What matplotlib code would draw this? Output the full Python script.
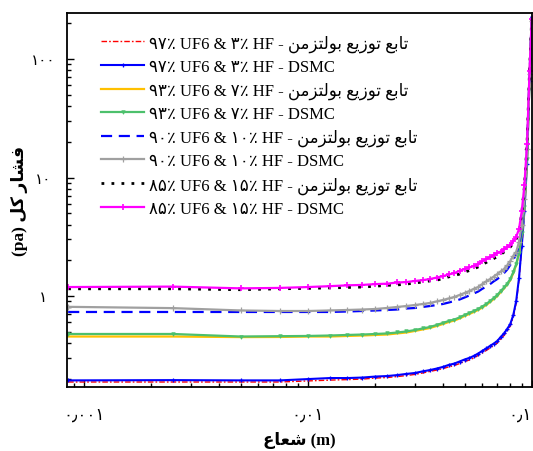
import matplotlib
matplotlib.use("Agg")
import matplotlib.pyplot as plt
from matplotlib import font_manager
from matplotlib.ticker import FixedLocator, FixedFormatter, LogLocator, NullFormatter

_names = {f.name for f in font_manager.fontManager.ttflist}
_fams = ['Liberation Serif']
if 'DejaVu Sans Condensed' in _names:
    _fams.append('DejaVu Sans Condensed')
_fams.append('DejaVu Sans')
plt.rcParams['font.family'] = _fams

# ---------------- data ----------------
radius = [0.00085, 0.0025, 0.005, 0.0075, 0.01, 0.0125, 0.015, 0.0175, 0.02, 0.0225,
          0.025, 0.0275, 0.03, 0.0325, 0.035, 0.0375, 0.04, 0.0425, 0.045, 0.0475,
          0.05, 0.0525, 0.055, 0.0575, 0.06, 0.0625, 0.065, 0.0675, 0.07, 0.0725,
          0.075, 0.0775, 0.08, 0.0825, 0.085, 0.0875, 0.09, 0.0925, 0.095, 0.0975, 0.0997]

p97_boltz = [0.188, 0.188, 0.188, 0.188, 0.192, 0.195, 0.197, 0.199, 0.203, 0.205,
             0.209, 0.213, 0.218, 0.224, 0.231, 0.237, 0.244, 0.252, 0.259, 0.269,
             0.280, 0.288, 0.300, 0.315, 0.330, 0.347, 0.364, 0.382, 0.401, 0.434,
             0.464, 0.507, 0.558, 0.665, 0.873, 1.36, 2.59, 5.12, 13.0, 65.2, 218]
p97_dsmc = [0.194, 0.195, 0.194, 0.194, 0.199, 0.203, 0.203, 0.205, 0.209, 0.211,
            0.215, 0.220, 0.224, 0.231, 0.237, 0.244, 0.252, 0.262, 0.269, 0.280,
            0.291, 0.300, 0.312, 0.327, 0.344, 0.361, 0.379, 0.397, 0.417, 0.451,
            0.483, 0.527, 0.580, 0.691, 0.907, 1.42, 2.64, 5.22, 13.0, 65.2, 226]
p93_boltz = [0.455, 0.455, 0.450, 0.451, 0.455, 0.455, 0.460, 0.464, 0.469, 0.473,
             0.483, 0.492, 0.507, 0.522, 0.537, 0.558, 0.580, 0.603, 0.621, 0.646,
             0.678, 0.705, 0.733, 0.762, 0.800, 0.839, 0.890, 0.943, 1.00, 1.08,
             1.16, 1.25, 1.36, 1.56, 1.83, 2.26, 3.34, 5.53, 14.3, 67.8, 209]
p93_dsmc = [0.478, 0.478, 0.455, 0.458, 0.460, 0.464, 0.469, 0.473, 0.478, 0.483,
            0.492, 0.502, 0.516, 0.532, 0.547, 0.569, 0.592, 0.615, 0.633, 0.659,
            0.691, 0.719, 0.747, 0.777, 0.815, 0.856, 0.907, 0.962, 1.02, 1.10,
            1.18, 1.27, 1.39, 1.59, 1.86, 2.31, 3.40, 5.64, 14.3, 67.8, 209]
p90_boltz = [0.733, 0.733, 0.733, 0.733, 0.733, 0.733, 0.740, 0.747, 0.755, 0.762,
             0.769, 0.784, 0.792, 0.808, 0.823, 0.839, 0.856, 0.881, 0.907, 0.934,
             0.971, 1.01, 1.05, 1.09, 1.15, 1.20, 1.26, 1.33, 1.39, 1.47,
             1.56, 1.67, 1.83, 2.01, 2.26, 2.69, 3.68, 6.21, 17.4, 74.7, 209]
p90_dsmc = [0.81, 0.79, 0.755, 0.747, 0.747, 0.755, 0.762, 0.769, 0.777, 0.792,
            0.808, 0.823, 0.839, 0.856, 0.873, 0.899, 0.925, 0.953, 0.981, 1.02,
            1.06, 1.10, 1.15, 1.19, 1.26, 1.33, 1.39, 1.46, 1.53, 1.61,
            1.69, 1.81, 1.97, 2.18, 2.35, 2.86, 3.97, 6.59, 17.4, 75, 209]
p85_boltz = [1.15, 1.15, 1.13, 1.15, 1.16, 1.17, 1.18, 1.19, 1.21, 1.23,
             1.24, 1.26, 1.29, 1.31, 1.34, 1.36, 1.40, 1.45, 1.49, 1.53,
             1.59, 1.64, 1.69, 1.76, 1.84, 1.92, 2.00, 2.07, 2.15, 2.24,
             2.35, 2.44, 2.59, 2.80, 3.03, 3.54, 5.0, 8.4, 19.2, 79, 218]
p85_dsmc = [1.19, 1.20, 1.16, 1.17, 1.19, 1.21, 1.23, 1.24, 1.26, 1.27,
            1.30, 1.31, 1.34, 1.36, 1.39, 1.43, 1.47, 1.52, 1.56, 1.63,
            1.69, 1.74, 1.79, 1.86, 1.97, 2.05, 2.13, 2.22, 2.31, 2.37,
            2.47, 2.57, 2.69, 2.91, 3.15, 3.68, 5.2, 8.6, 19.2, 79, 218]

mix_labels = ['۹۷٪ UF6 & ۳٪ HF', '۹۳٪ UF6 & ۷٪ HF', '۹۰٪ UF6 & ۱۰٪ HF', '۸۵٪ UF6 & ۱۵٪ HF']
boltz_name = 'تابع توزیع بولتزمن'
dsmc_name = 'DSMC'
x_label_fa = 'شعاع'
x_unit = '(m)'
y_label_fa = 'فشار کل'
y_unit = '(pa)'
xtick_vals = [0.001, 0.01, 0.1]
xtick_labels = ['۰٫۰۰۱', '۰٫۰۱', '۰٫۱']
ytick_vals = [1, 10, 100]
ytick_labels = ['۱', '۱۰', '۱۰۰']

# ------------- minimal Persian shaping (visual order) -------------
FORMS = {
    'ا': ('\uFE8D', '\uFE8E', None, None),
    'ب': ('\uFE8F', '\uFE90', '\uFE91', '\uFE92'),
    'ت': ('\uFE95', '\uFE96', '\uFE97', '\uFE98'),
    'ع': ('\uFEC9', '\uFECA', '\uFECB', '\uFECC'),
    'و': ('\uFEED', '\uFEEE', None, None),
    'ز': ('\uFEAF', '\uFEB0', None, None),
    'ی': ('\uFBFC', '\uFBFD', '\uFBFE', '\uFBFF'),
    'ل': ('\uFEDD', '\uFEDE', '\uFEDF', '\uFEE0'),
    'م': ('\uFEE1', '\uFEE2', '\uFEE3', '\uFEE4'),
    'ن': ('\uFEE5', '\uFEE6', '\uFEE7', '\uFEE8'),
    'ش': ('\uFEB5', '\uFEB6', '\uFEB7', '\uFEB8'),
    'ف': ('\uFED1', '\uFED2', '\uFED3', '\uFED4'),
    'ر': ('\uFEAD', '\uFEAE', None, None),
    'ک': ('\uFB8E', '\uFB8F', '\uFB90', '\uFB91'),
}


def rtl(s):
    out = []
    n = len(s)
    for i, ch in enumerate(s):
        f = FORMS.get(ch)
        if f is None:
            out.append(ch)
            continue
        jp = i > 0 and s[i - 1] in FORMS and FORMS[s[i - 1]][2] is not None
        jn = i < n - 1 and s[i + 1] in FORMS and f[2] is not None
        if jp and jn:
            out.append(f[3])
        elif jp:
            out.append(f[1])
        elif jn:
            out.append(f[2])
        else:
            out.append(f[0])
    return ''.join(reversed(out))


# ---------------- figure ----------------
fig = plt.figure(figsize=(5.33, 4.52), dpi=100)
ax = fig.add_axes([67 / 533, 64 / 452, 465 / 533, 374 / 452])

boltz_series = [p97_boltz, p93_boltz, p90_boltz, p85_boltz]
dsmc_series = [p97_dsmc, p93_dsmc, p90_dsmc, p85_dsmc]
boltz_styles = [
    dict(color='#FF0000', lw=1.0, ls=(0, (4, 1.5, 1.2, 1.5))),
    dict(color='#FFC000', lw=1.6, ls='-'),
    dict(color='#0000FF', lw=1.6, ls=(0, (5, 3))),
    dict(color='#000000', lw=2.0, ls=(0, (1, 2.6))),
]
dsmc_styles = [
    dict(color='#0000FF', lw=1.5, marker='+', ms=3.5, mew=0.9),
    dict(color='#4CC06C', lw=1.6, marker='v', ms=2.5, mew=0.6),
    dict(color='#A0A0A0', lw=1.6, marker='+', ms=4, mew=0.9),
    dict(color='#FF00FF', lw=1.6, marker='+', ms=5, mew=1.2),
]

for mix, pb, pd, sb, sd in zip(mix_labels, boltz_series, dsmc_series, boltz_styles, dsmc_styles):
    ax.plot(radius, pb, label=mix + ' - ' + rtl(boltz_name), **sb)
    ax.plot(radius, pd, label=mix + ' - ' + dsmc_name, **sd)

ax.set_xscale('log')
ax.set_yscale('log')
ax.set_xlim(0.00084, 0.1)
ax.set_ylim(0.1706, 244.5)

ax.xaxis.set_major_locator(FixedLocator(xtick_vals))
ax.xaxis.set_major_formatter(FixedFormatter(xtick_labels))
ax.yaxis.set_major_locator(FixedLocator(ytick_vals))
ax.yaxis.set_major_formatter(FixedFormatter(ytick_labels))
ax.xaxis.set_minor_locator(LogLocator(base=10, subs=range(2, 10), numticks=20))
ax.yaxis.set_minor_locator(LogLocator(base=10, subs=range(2, 10), numticks=20))
ax.xaxis.set_minor_formatter(NullFormatter())
ax.yaxis.set_minor_formatter(NullFormatter())

ax.tick_params(which='both', direction='in', top=False, right=False, width=1.0)
ax.tick_params(which='major', length=5)
ax.tick_params(which='minor', length=3)
ax.tick_params(axis='x', which='major', pad=14, labelsize=12)
ax.tick_params(axis='y', which='major', pad=17, labelsize=11)
for lbl in ax.get_yticklabels():
    lbl.set_horizontalalignment('center')
xl = ax.get_xticklabels()
xl[-1].set_horizontalalignment('right')
for sp in ax.spines.values():
    sp.set_linewidth(1.3)

ax.set_xlabel(rtl(x_label_fa) + ' ' + x_unit, fontsize=12, fontweight='bold', labelpad=6)
ax.set_ylabel(y_unit + ' ' + rtl(y_label_fa), fontsize=12.5, fontweight='bold', labelpad=2)

leg = ax.legend(loc='upper left', bbox_to_anchor=(0.059, 0.961), frameon=False,
                fontsize=12, handlelength=2.6, handletextpad=0.3, labelspacing=0.42,
                borderaxespad=0.0)

fig.savefig('out.png', dpi=100)
